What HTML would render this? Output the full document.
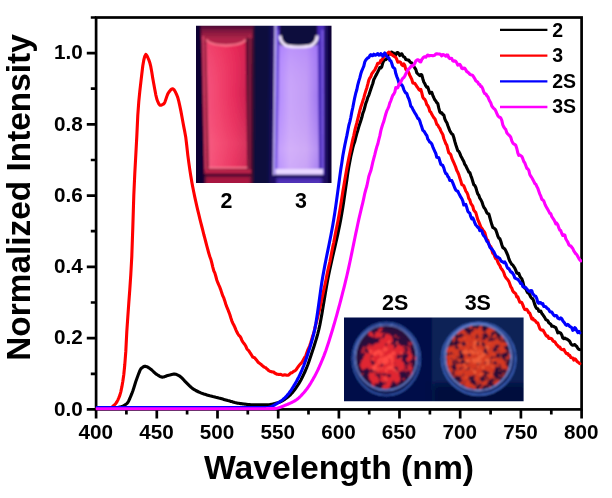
<!DOCTYPE html>
<html lang="en"><head><meta charset="utf-8"><title>Normalized emission spectra</title>
<style>html,body{margin:0;padding:0;background:#fff}body{width:612px;height:498px;overflow:hidden}</style></head>
<body>
<svg width="612" height="498" viewBox="0 0 612 498" style="display:block">
<defs>
<filter id="pw1" x="-5%" y="-5%" width="110%" height="110%" color-interpolation-filters="sRGB"><feTurbulence type="fractalNoise" baseFrequency="0.13" numOctaves="4" seed="4" result="t"/><feColorMatrix in="t" type="matrix" values="0 0 0 0 0  0 0 0 0 0  0 0 0 0 0  1 0 0 0 0" result="na"/><feComposite in="na" in2="SourceGraphic" operator="arithmetic" k1="0" k2="3" k3="1.8" k4="-2.35" result="sum"/><feColorMatrix in="sum" type="matrix" values="0 0 0 0 0  0 0 0 0 0  0 0 0 0 0  0 0 0 3 0" result="al"/><feFlood flood-color="#e02830"/><feComposite in2="al" operator="in"/></filter>
<filter id="pw1b" x="-5%" y="-5%" width="110%" height="110%" color-interpolation-filters="sRGB"><feTurbulence type="fractalNoise" baseFrequency="0.18" numOctaves="4" seed="9" result="t"/><feColorMatrix in="t" type="matrix" values="0 0 0 0 0  0 0 0 0 0  0 0 0 0 0  1 0 0 0 0" result="na"/><feComposite in="na" in2="SourceGraphic" operator="arithmetic" k1="0" k2="3" k3="1.8" k4="-2.85" result="sum"/><feColorMatrix in="sum" type="matrix" values="0 0 0 0 0  0 0 0 0 0  0 0 0 0 0  0 0 0 3 0" result="al"/><feFlood flood-color="#ff4a44"/><feComposite in2="al" operator="in"/></filter>
<filter id="pw2" x="-5%" y="-5%" width="110%" height="110%" color-interpolation-filters="sRGB"><feTurbulence type="fractalNoise" baseFrequency="0.17" numOctaves="4" seed="11" result="t"/><feColorMatrix in="t" type="matrix" values="0 0 0 0 0  0 0 0 0 0  0 0 0 0 0  1 0 0 0 0" result="na"/><feComposite in="na" in2="SourceGraphic" operator="arithmetic" k1="0" k2="3" k3="1.4" k4="-2.2" result="sum"/><feColorMatrix in="sum" type="matrix" values="0 0 0 0 0  0 0 0 0 0  0 0 0 0 0  0 0 0 3 0" result="al"/><feFlood flood-color="#d43824"/><feComposite in2="al" operator="in"/></filter>
<filter id="pw2b" x="-5%" y="-5%" width="110%" height="110%" color-interpolation-filters="sRGB"><feTurbulence type="fractalNoise" baseFrequency="0.22" numOctaves="4" seed="21" result="t"/><feColorMatrix in="t" type="matrix" values="0 0 0 0 0  0 0 0 0 0  0 0 0 0 0  1 0 0 0 0" result="na"/><feComposite in="na" in2="SourceGraphic" operator="arithmetic" k1="0" k2="3" k3="1.6" k4="-2.75" result="sum"/><feColorMatrix in="sum" type="matrix" values="0 0 0 0 0  0 0 0 0 0  0 0 0 0 0  0 0 0 3 0" result="al"/><feFlood flood-color="#ee5c38"/><feComposite in2="al" operator="in"/></filter>
<clipPath id="cd1"><ellipse cx="386" cy="357.8" rx="30" ry="31.6"/></clipPath>
<clipPath id="cd2"><ellipse cx="478.2" cy="357.4" rx="32.2" ry="32.2"/></clipPath>
<filter id="b05"><feGaussianBlur stdDeviation="0.55"/></filter>
<filter id="b08"><feGaussianBlur stdDeviation="0.8"/></filter>
<filter id="b1"><feGaussianBlur stdDeviation="0.8"/></filter>
<filter id="b2"><feGaussianBlur stdDeviation="1.6"/></filter>
<filter id="b3"><feGaussianBlur stdDeviation="3"/></filter>
<linearGradient id="redliq" x1="0" x2="1" y1="0" y2="0"><stop offset="0" stop-color="#f4547e"/><stop offset="0.3" stop-color="#f2446e"/><stop offset="0.7" stop-color="#e62c5c"/><stop offset="1" stop-color="#cc2050"/></linearGradient>
<linearGradient id="dome" x1="0" x2="0" y1="0" y2="1"><stop offset="0" stop-color="#3c0834"/><stop offset="0.5" stop-color="#8a1840"/><stop offset="1" stop-color="#b02848"/></linearGradient>
<linearGradient id="redliqv" x1="0" x2="0" y1="0" y2="1"><stop offset="0" stop-color="#e8204c" stop-opacity="0.35"/><stop offset="0.4" stop-color="#f04870" stop-opacity="0"/><stop offset="0.8" stop-color="#ff7890" stop-opacity="0.22"/><stop offset="1" stop-color="#ff7890" stop-opacity="0.1"/></linearGradient>
<linearGradient id="purliqv" x1="0" x2="0" y1="0" y2="1"><stop offset="0" stop-color="#9a68ff" stop-opacity="0.45"/><stop offset="0.45" stop-color="#c8a0f8" stop-opacity="0"/><stop offset="0.85" stop-color="#e8c8f8" stop-opacity="0.3"/><stop offset="1" stop-color="#e8c8f8" stop-opacity="0.15"/></linearGradient>
<linearGradient id="purliq" x1="0" x2="1" y1="0" y2="0"><stop offset="0" stop-color="#b088ff"/><stop offset="0.3" stop-color="#caa6fa"/><stop offset="0.7" stop-color="#c29cf6"/><stop offset="1" stop-color="#9c74f0"/></linearGradient>
<radialGradient id="m1" cx="0.5" cy="0.52" r="0.5"><stop offset="0" stop-color="#000" stop-opacity="1"/><stop offset="0.5" stop-color="#000" stop-opacity="0.8"/><stop offset="0.8" stop-color="#000" stop-opacity="0.5"/><stop offset="1" stop-color="#000" stop-opacity="0.15"/></radialGradient>
<radialGradient id="m1b" cx="0.48" cy="0.5" r="0.5"><stop offset="0" stop-color="#000" stop-opacity="1"/><stop offset="0.4" stop-color="#000" stop-opacity="0.7"/><stop offset="0.8" stop-color="#000" stop-opacity="0.2"/><stop offset="1" stop-color="#000" stop-opacity="0"/></radialGradient>
<radialGradient id="m2" cx="0.46" cy="0.5" r="0.56"><stop offset="0" stop-color="#000" stop-opacity="1"/><stop offset="0.6" stop-color="#000" stop-opacity="0.75"/><stop offset="1" stop-color="#000" stop-opacity="0.45"/></radialGradient>
<radialGradient id="m2b" cx="0.48" cy="0.5" r="0.5"><stop offset="0" stop-color="#000" stop-opacity="1"/><stop offset="0.5" stop-color="#000" stop-opacity="0.6"/><stop offset="1" stop-color="#000" stop-opacity="0.1"/></radialGradient>
<clipPath id="plot"><rect x="95.6" y="17.5" width="486.5" height="394.9"/></clipPath>
<clipPath id="ph1"><rect x="196" y="25.7" width="135.5" height="157.3"/></clipPath>
<clipPath id="ph2"><rect x="344" y="317.4" width="179.6" height="83.8"/></clipPath>
</defs>
<rect width="612" height="498" fill="#fff"/>
<g clip-path="url(#ph1)"><g filter="url(#b08)">
<rect x="190" y="20" width="148" height="170" fill="#0a0632"/>
<rect x="254" y="20" width="20" height="170" fill="#0c0a3c"/>
<path d="M201.5 22H254L253 186H205Z" fill="#4a0a30" filter="url(#b1)"/>
<path d="M201.3 24H252.4L251.2 175H204.6Z" fill="#8e1a3c"/>
<path d="M201.3 24H252.4L252.3 40H201.6Z" fill="url(#dome)"/>
<path d="M202.2 36L204 36L206.6 174L204.8 174Z" fill="#d84068"/>
<path d="M245.4 38H252.3L251.3 174H247.2Z" fill="#5c1030"/>
<path d="M249.4 34L250.6 34L250 172L249 172Z" fill="#b02c54" opacity="0.8"/>
<path d="M206.4 41H245.6L247.2 168.5H209Z" fill="url(#redliq)"/>
<path d="M206.4 41H245.6L247.2 168.5H209Z" fill="url(#redliqv)"/>
<path d="M206 37.5H246V42Q226 50 206 42Z" fill="#b02448"/>
<path d="M206.6 39.5Q208 44.5 226 45.5Q244 44.5 245.4 39.5" fill="none" stroke="#ff7890" stroke-width="1.8" filter="url(#b05)"/>
<path d="M208.6 167.6H247.4" stroke="#ff8098" stroke-width="1.4" fill="none"/>
<path d="M205 169.5H251L251 174H205Z" fill="#b82448"/>
<path d="M204.5 174.6H251.4" stroke="#2a0626" stroke-width="1.6" fill="none"/>
<path d="M205.5 176.5H250.5V186H205.5Z" fill="#a81840" filter="url(#b1)"/>
<path d="M270 22H328V186H269Z" fill="#1c0e60" filter="url(#b2)"/>
<path d="M274.6 24H324.4V175H273Z" fill="#4a2cb8"/>
<path d="M279.6 24H317.4V46H279.6Z" fill="#0c083e"/>
<path d="M275.5 24L273.9 175" stroke="#d8c8ff" stroke-width="1.5" fill="none"/>
<path d="M277.6 30L276 172" stroke="#7a58e8" stroke-width="2" fill="none"/>
<path d="M322.4 30L322.8 174" stroke="#8a68f0" stroke-width="1.3" fill="none"/>
<path d="M279.4 36V44Q284 48 298.5 48.5Q313 48 317.6 44V36L319 169H277.2Z" fill="url(#purliq)"/>
<path d="M279.4 36V44Q284 48 298.5 48.5Q313 48 317.6 44V36L319 169H277.2Z" fill="url(#purliqv)"/>
<path d="M280 35.5Q280.5 43.5 287 46Q298.5 48.2 310 46Q316.8 43.5 317.2 35.5" fill="none" stroke="#f4e8ff" stroke-width="3" filter="url(#b05)"/>
<path d="M275.5 169H323V174.6H275.5Z" fill="#ead8ff"/>
<path d="M274 176.3H324" stroke="#160a48" stroke-width="1.6" fill="none"/>
<path d="M276.5 178H322V186H276.5Z" fill="#5030b8" filter="url(#b1)"/>
</g></g>
<g clip-path="url(#ph2)"><g filter="url(#b08)">
<rect x="340" y="312" width="92" height="95" fill="#051048"/>
<rect x="432" y="312" width="96" height="95" fill="#0a2056"/>
<rect x="432" y="384" width="96" height="24" fill="#060f3c" filter="url(#b3)"/>
<ellipse cx="386.3" cy="359" rx="33.6" ry="36.2" fill="#08134e" stroke="#4470d4" stroke-width="1.1"/>
<ellipse cx="386" cy="357.6" rx="31" ry="32.6" fill="#2a0c3a" stroke="#7a9cf0" stroke-width="1.2"/>
<g clip-path="url(#cd1)"><ellipse cx="386" cy="358" rx="30.5" ry="32" fill="url(#m1)" filter="url(#pw1)"/>
<ellipse cx="386" cy="359" rx="30.5" ry="32" fill="url(#m1b)" filter="url(#pw1b)"/></g>
<ellipse cx="478.7" cy="358.7" rx="36.8" ry="36.2" fill="#0c1c5c" stroke="#4c78dc" stroke-width="1.2"/>
<ellipse cx="478.2" cy="357.4" rx="33.2" ry="33.2" fill="#2c1034" stroke="#84a4f4" stroke-width="1.3"/>
<g clip-path="url(#cd2)"><ellipse cx="478" cy="357.5" rx="32.5" ry="32.5" fill="url(#m2)" filter="url(#pw2)"/>
<ellipse cx="478" cy="357.5" rx="32.5" ry="32.5" fill="url(#m2b)" filter="url(#pw2b)"/></g>
</g></g>
<g stroke="#000" stroke-width="2.7" fill="none">
<rect x="96.1" y="17.5" width="485.5" height="391.9"/>
<path d="M96.1 409.4V418.4M126.4 409.4V414.4M156.8 409.4V418.4M187.1 409.4V414.4M217.5 409.4V418.4M247.8 409.4V414.4M278.2 409.4V418.4M308.5 409.4V414.4M338.9 409.4V418.4M369.2 409.4V414.4M399.5 409.4V418.4M429.9 409.4V414.4M460.2 409.4V418.4M490.6 409.4V414.4M520.9 409.4V418.4M551.3 409.4V414.4M581.6 409.4V418.4M86.8 409.4H96.1M90.8 373.8H96.1M86.8 338.1H96.1M90.8 302.5H96.1M86.8 266.9H96.1M90.8 231.2H96.1M86.8 195.6H96.1M90.8 160.0H96.1M86.8 124.4H96.1M90.8 88.7H96.1M86.8 53.1H96.1M90.8 17.5H96.1"/>
</g>
<g clip-path="url(#plot)" fill="none" stroke-linejoin="round" stroke-linecap="round" stroke-width="3.1">
<polyline stroke="#000" points="96.8,408.3 97.8,408.3 98.8,408.3 99.8,408.3 100.8,408.3 101.8,408.3 102.8,408.3 103.8,408.3 104.8,408.3 105.8,408.3 106.8,408.3 107.8,408.2 108.8,408.2 109.8,408.2 110.8,408.2 111.8,408.2 112.8,408.2 113.8,408.1 114.8,408.0 115.8,407.9 116.8,407.7 117.8,407.5 118.8,407.3 119.8,407.1 120.8,406.9 121.8,406.5 122.8,406.1 123.8,405.6 124.8,405.0 125.8,404.4 126.8,403.6 127.8,402.5 128.8,400.7 129.8,398.5 130.8,396.1 131.8,393.7 132.8,391.0 133.8,387.9 134.8,384.7 135.8,381.5 136.8,378.7 137.8,376.0 138.8,373.3 139.8,370.8 140.8,368.9 141.8,367.9 142.8,367.2 143.8,366.6 144.8,366.3 145.8,366.4 146.8,366.7 147.8,367.2 148.8,367.8 149.8,368.5 150.8,369.2 151.8,370.0 152.8,371.0 153.8,372.0 154.8,372.9 155.8,373.8 156.8,374.4 157.8,375.1 158.8,375.7 159.8,376.3 160.8,376.8 161.8,377.1 162.8,377.1 163.8,376.9 164.8,376.6 165.8,376.2 166.8,375.8 167.8,375.5 168.8,375.2 169.8,375.0 170.8,374.7 171.8,374.5 172.8,374.3 173.8,374.1 174.8,374.1 175.8,374.2 176.8,374.6 177.8,375.1 178.8,375.6 179.8,376.2 180.8,377.0 181.8,377.9 182.8,378.9 183.8,380.0 184.8,381.1 185.8,382.1 186.8,383.1 187.8,384.1 188.8,385.1 189.8,386.1 190.8,387.0 191.8,387.9 192.8,388.7 193.8,389.3 194.8,389.9 195.8,390.5 196.8,391.0 197.8,391.5 198.8,392.0 199.8,392.4 200.8,392.9 201.8,393.3 202.8,393.6 203.8,394.0 204.8,394.3 205.8,394.6 206.8,394.9 207.8,395.2 208.8,395.5 209.8,395.8 210.8,396.0 211.8,396.2 212.8,396.5 213.8,396.7 214.8,396.9 215.8,397.2 216.8,397.4 217.8,397.7 218.8,398.0 219.8,398.2 220.8,398.5 221.8,398.8 222.8,399.1 223.8,399.4 224.8,399.7 225.8,400.0 226.8,400.3 227.8,400.6 228.8,400.8 229.8,401.1 230.8,401.4 231.8,401.6 232.8,401.9 233.8,402.2 234.8,402.5 235.8,402.7 236.8,402.9 237.8,403.2 238.8,403.3 239.8,403.5 240.8,403.6 241.8,403.8 242.8,403.9 243.8,404.0 244.8,404.1 245.8,404.3 246.8,404.4 247.8,404.5 248.8,404.5 249.8,404.6 250.8,404.7 251.8,404.7 252.8,404.8 253.8,404.8 254.8,404.8 255.8,404.8 256.8,404.8 257.8,404.8 258.8,404.8 259.8,404.8 260.8,404.8 261.8,404.8 262.8,404.8 263.8,404.8 264.8,404.8 265.8,404.8 266.8,404.8 267.8,404.8 268.8,404.7 269.8,404.6 270.8,404.4 271.8,404.3 272.8,404.1 273.8,403.8 274.8,403.6 275.8,403.3 276.8,403.0 277.8,402.7 278.8,402.4 279.8,402.0 280.8,401.6 281.8,401.1 282.8,400.6 283.8,399.9 284.8,399.3 285.8,398.6 286.8,397.8 287.8,397.0 288.8,396.2 289.8,395.3 290.8,394.3 291.8,393.2 292.8,392.1 293.8,390.8 294.8,389.5 295.8,388.1 296.8,386.6 297.8,385.1 298.8,383.6 299.8,381.9 300.8,380.2 301.8,378.3 302.8,376.3 303.8,374.2 304.8,372.0 305.8,369.7 306.8,367.3 307.8,364.7 308.8,361.9 309.8,359.0 310.8,356.0 311.8,353.0 312.8,350.0 313.8,346.9 314.8,343.8 315.8,340.6 316.8,337.2 317.8,333.6 318.8,329.6 319.8,325.1 320.8,320.0 321.8,314.4 322.8,308.6 323.8,302.5 324.8,296.5 325.8,290.5 326.8,284.7 327.8,279.2 328.8,274.2 329.8,269.4 330.8,264.8 331.8,260.4 332.8,256.0 333.8,251.7 334.8,247.4 335.8,243.0 336.8,238.6 337.8,234.1 338.8,229.3 339.8,224.4 340.8,219.2 341.8,213.6 342.8,207.4 343.8,200.9 344.8,194.0 345.8,187.0 346.8,180.2 347.8,173.1 348.8,167.0 349.8,161.6 350.8,156.5 351.8,152.1 352.8,147.9 353.8,144.2 354.8,141.4 355.8,137.3 356.8,133.5 357.8,130.4 358.8,126.8 359.8,123.8 360.8,120.7 361.8,117.6 362.8,113.4 363.8,110.7 364.8,107.2 365.8,103.4 366.8,100.8 367.8,97.4 368.8,95.3 369.8,92.3 370.8,89.2 371.8,86.3 372.8,83.5 373.8,79.5 374.8,77.7 375.8,75.6 376.8,73.9 377.8,71.9 378.8,69.9 379.8,67.5 380.8,68.0 381.8,66.7 382.8,62.8 383.8,60.6 384.8,59.8 385.8,59.7 386.8,58.6 387.8,55.3 388.8,54.1 389.8,53.2 390.8,52.3 391.8,52.1 392.8,53.1 393.8,53.1 394.8,55.0 395.8,54.8 396.8,52.8 397.8,52.5 398.8,53.8 399.8,55.5 400.8,54.2 401.8,53.8 402.8,55.7 403.8,56.9 404.8,57.4 405.8,59.5 406.8,59.8 407.8,60.1 408.8,60.1 409.8,61.7 410.8,62.6 411.8,62.9 412.8,65.5 413.8,66.2 414.8,68.0 415.8,69.4 416.8,72.9 417.8,73.7 418.8,74.8 419.8,75.6 420.8,74.5 421.8,75.0 422.8,78.7 423.8,82.0 424.8,83.6 425.8,85.9 426.8,87.2 427.8,87.1 428.8,90.3 429.8,93.3 430.8,92.5 431.8,92.4 432.8,95.3 433.8,97.7 434.8,99.8 435.8,101.0 436.8,102.7 437.8,103.7 438.8,108.2 439.8,111.9 440.8,113.0 441.8,112.7 442.8,114.5 443.8,114.9 444.8,118.9 445.8,121.2 446.8,122.6 447.8,125.5 448.8,128.1 449.8,130.7 450.8,132.4 451.8,134.0 452.8,134.6 453.8,137.5 454.8,141.4 455.8,144.8 456.8,147.8 457.8,150.7 458.8,151.3 459.8,153.4 460.8,155.9 461.8,157.7 462.8,159.8 463.8,161.5 464.8,164.4 465.8,165.7 466.8,168.0 467.8,169.9 468.8,172.1 469.8,172.6 470.8,175.6 471.8,178.1 472.8,181.5 473.8,184.7 474.8,185.5 475.8,187.5 476.8,190.9 477.8,194.0 478.8,195.2 479.8,198.2 480.8,199.6 481.8,201.6 482.8,204.6 483.8,207.2 484.8,208.4 485.8,210.3 486.8,212.6 487.8,213.7 488.8,213.9 489.8,217.5 490.8,221.1 491.8,224.6 492.8,227.4 493.8,228.1 494.8,228.8 495.8,229.9 496.8,232.8 497.8,236.0 498.8,238.1 499.8,238.6 500.8,241.3 501.8,244.7 502.8,247.6 503.8,248.2 504.8,249.0 505.8,250.8 506.8,253.0 507.8,255.3 508.8,258.6 509.8,261.1 510.8,262.8 511.8,264.4 512.8,265.0 513.8,266.7 514.8,268.1 515.8,270.4 516.8,273.1 517.8,273.4 518.8,273.4 519.8,276.1 520.8,277.7 521.8,278.8 522.8,281.7 523.8,285.8 524.8,288.2 525.8,288.7 526.8,291.3 527.8,293.0 528.8,292.9 529.8,295.0 530.8,297.1 531.8,298.4 532.8,298.7 533.8,301.4 534.8,304.7 535.8,307.1 536.8,308.5 537.8,308.7 538.8,311.2 539.8,311.4 540.8,311.1 541.8,313.5 542.8,314.6 543.8,316.2 544.8,317.6 545.8,319.6 546.8,320.1 547.8,320.8 548.8,322.8 549.8,323.5 550.8,324.2 551.8,326.2 552.8,326.1 553.8,326.5 554.8,327.2 555.8,327.7 556.8,330.1 557.8,332.9 558.8,332.2 559.8,332.8 560.8,333.2 561.8,335.0 562.8,338.0 563.8,338.6 564.8,338.0 565.8,338.8 566.8,339.1 567.8,339.7 568.8,340.4 569.8,341.5 570.8,343.6 571.8,344.9 572.8,345.3 573.8,344.9 574.8,344.5 575.8,345.7 576.8,346.5 577.8,348.4 578.8,349.2 579.8,349.6"/>
<polyline stroke="#ff0000" points="96.8,408.3 97.8,408.3 98.8,408.3 99.8,408.3 100.8,408.3 101.8,408.3 102.8,408.2 103.8,408.2 104.8,408.2 105.8,408.2 106.8,408.1 107.8,408.1 108.8,408.0 109.8,407.9 110.8,407.6 111.8,407.1 112.8,406.4 113.8,405.5 114.8,404.6 115.8,403.4 116.8,402.0 117.8,400.1 118.8,397.9 119.8,395.4 120.8,391.8 121.8,387.2 122.8,381.5 123.8,374.5 124.8,364.5 125.8,351.4 126.8,331.7 127.8,317.0 128.8,302.8 129.8,289.3 130.8,274.5 131.8,256.3 132.8,227.6 133.8,195.2 134.8,173.3 135.8,155.0 136.8,136.3 137.8,115.1 138.8,101.4 139.8,91.3 140.8,82.6 141.8,74.0 142.8,65.8 143.8,60.0 144.8,56.2 145.8,54.4 146.8,55.5 147.8,57.5 148.8,59.8 149.8,62.7 150.8,66.7 151.8,72.2 152.8,78.4 153.8,84.1 154.8,89.5 155.8,94.8 156.8,99.0 157.8,101.7 158.8,103.8 159.8,105.1 160.8,105.2 161.8,104.9 162.8,104.4 163.8,103.8 164.8,102.3 165.8,99.5 166.8,96.5 167.8,93.9 168.8,92.3 169.8,91.0 170.8,89.8 171.8,89.0 172.8,88.8 173.8,89.5 174.8,90.9 175.8,92.8 176.8,95.0 177.8,97.6 178.8,101.4 179.8,105.9 180.8,110.6 181.8,116.0 182.8,121.6 183.8,126.9 184.8,131.9 185.8,137.6 186.8,146.0 187.8,155.1 188.8,162.6 189.8,169.6 190.8,176.0 191.8,181.9 192.8,187.3 193.8,192.3 194.8,197.1 195.8,201.6 196.8,206.1 197.8,210.4 198.8,214.4 199.8,218.6 200.8,222.6 201.8,226.5 202.8,230.4 203.8,234.5 204.8,238.1 205.8,242.0 206.8,245.8 207.8,249.5 208.8,253.3 209.8,256.4 210.8,259.2 211.8,262.9 212.8,267.1 213.8,270.8 214.8,272.9 215.8,276.3 216.8,280.0 217.8,282.7 218.8,285.0 219.8,287.2 220.8,289.9 221.8,293.1 222.8,295.9 223.8,297.9 224.8,300.9 225.8,304.3 226.8,306.9 227.8,309.3 228.8,311.9 229.8,314.5 230.8,317.8 231.8,320.8 232.8,323.2 233.8,325.0 234.8,327.1 235.8,329.6 236.8,331.8 237.8,333.7 238.8,335.3 239.8,336.2 240.8,337.7 241.8,340.2 242.8,341.9 243.8,343.3 244.8,344.5 245.8,346.2 246.8,348.6 247.8,349.9 248.8,350.7 249.8,352.4 250.8,353.9 251.8,355.5 252.8,357.1 253.8,357.4 254.8,357.9 255.8,359.3 256.8,360.4 257.8,361.8 258.8,362.8 259.8,363.5 260.8,364.2 261.8,365.2 262.8,365.9 263.8,366.9 264.8,367.4 265.8,367.8 266.8,368.9 267.8,369.6 268.8,370.7 269.8,371.2 270.8,371.5 271.8,371.9 272.8,372.0 273.8,372.0 274.8,373.3 275.8,373.6 276.8,374.2 277.8,374.2 278.8,374.4 279.8,374.5 280.8,374.4 281.8,374.9 282.8,375.3 283.8,375.0 284.8,374.7 285.8,374.9 286.8,375.2 287.8,375.3 288.8,374.8 289.8,373.8 290.8,372.9 291.8,372.9 292.8,372.1 293.8,371.3 294.8,370.9 295.8,370.1 296.8,368.8 297.8,367.2 298.8,365.9 299.8,364.6 300.8,363.7 301.8,362.4 302.8,361.0 303.8,359.0 304.8,357.2 305.8,355.8 306.8,352.7 307.8,349.9 308.8,347.8 309.8,345.6 310.8,342.5 311.8,339.1 312.8,335.8 313.8,333.0 314.8,328.7 315.8,324.4 316.8,320.6 317.8,316.4 318.8,312.4 319.8,308.5 320.8,303.6 321.8,298.9 322.8,294.3 323.8,289.8 324.8,285.5 325.8,280.8 326.8,275.6 327.8,270.7 328.8,266.4 329.8,262.1 330.8,257.1 331.8,251.9 332.8,246.7 333.8,242.3 334.8,236.7 335.8,231.5 336.8,226.8 337.8,221.8 338.8,216.4 339.8,210.4 340.8,204.5 341.8,198.2 342.8,191.7 343.8,185.9 344.8,179.9 345.8,174.2 346.8,168.5 347.8,163.3 348.8,158.2 349.8,153.5 350.8,148.9 351.8,144.0 352.8,139.4 353.8,135.3 354.8,130.5 355.8,126.6 356.8,122.9 357.8,118.8 358.8,115.0 359.8,110.7 360.8,107.1 361.8,104.2 362.8,101.1 363.8,97.9 364.8,94.1 365.8,90.9 366.8,87.9 367.8,84.2 368.8,80.1 369.8,78.0 370.8,76.8 371.8,73.8 372.8,72.6 373.8,71.0 374.8,70.0 375.8,67.6 376.8,65.7 377.8,63.2 378.8,63.3 379.8,62.9 380.8,60.3 381.8,60.3 382.8,58.4 383.8,56.3 384.8,54.0 385.8,55.3 386.8,54.0 387.8,53.0 388.8,52.0 389.8,52.6 390.8,54.4 391.8,54.4 392.8,55.6 393.8,56.0 394.8,56.8 395.8,57.3 396.8,59.5 397.8,62.2 398.8,62.0 399.8,61.9 400.8,62.5 401.8,64.8 402.8,65.7 403.8,63.9 404.8,65.4 405.8,69.5 406.8,70.1 407.8,70.7 408.8,72.8 409.8,75.4 410.8,77.3 411.8,79.4 412.8,82.9 413.8,83.2 414.8,83.3 415.8,84.8 416.8,86.6 417.8,87.8 418.8,89.4 419.8,90.3 420.8,89.3 421.8,92.9 422.8,97.1 423.8,98.7 424.8,99.3 425.8,101.4 426.8,104.7 427.8,105.7 428.8,107.7 429.8,111.3 430.8,112.2 431.8,114.3 432.8,116.0 433.8,117.6 434.8,118.7 435.8,121.2 436.8,124.4 437.8,125.1 438.8,127.1 439.8,128.4 440.8,130.9 441.8,132.9 442.8,134.5 443.8,138.5 444.8,141.0 445.8,143.6 446.8,145.1 447.8,149.1 448.8,152.9 449.8,153.5 450.8,154.8 451.8,158.1 452.8,160.5 453.8,162.6 454.8,165.0 455.8,167.4 456.8,170.5 457.8,172.3 458.8,174.6 459.8,178.1 460.8,180.9 461.8,184.7 462.8,184.9 463.8,185.8 464.8,188.3 465.8,191.1 466.8,192.4 467.8,194.6 468.8,198.6 469.8,199.8 470.8,203.4 471.8,204.8 472.8,206.4 473.8,210.3 474.8,211.4 475.8,212.6 476.8,216.1 477.8,219.7 478.8,221.9 479.8,224.4 480.8,227.1 481.8,228.2 482.8,229.9 483.8,231.3 484.8,232.6 485.8,236.3 486.8,239.7 487.8,240.2 488.8,244.0 489.8,245.8 490.8,246.7 491.8,250.0 492.8,253.3 493.8,254.0 494.8,256.7 495.8,258.7 496.8,259.3 497.8,262.1 498.8,264.1 499.8,265.4 500.8,267.9 501.8,269.3 502.8,270.6 503.8,272.6 504.8,275.8 505.8,277.5 506.8,278.7 507.8,279.8 508.8,281.3 509.8,284.0 510.8,286.8 511.8,288.2 512.8,291.1 513.8,292.3 514.8,292.8 515.8,294.0 516.8,297.0 517.8,296.9 518.8,299.6 519.8,302.2 520.8,302.0 521.8,302.6 522.8,304.9 523.8,307.6 524.8,309.5 525.8,309.7 526.8,309.3 527.8,310.8 528.8,312.7 529.8,313.2 530.8,315.9 531.8,318.9 532.8,318.4 533.8,320.1 534.8,320.3 535.8,321.5 536.8,322.8 537.8,323.1 538.8,325.7 539.8,328.6 540.8,329.7 541.8,330.1 542.8,330.0 543.8,331.4 544.8,333.2 545.8,335.1 546.8,336.2 547.8,336.1 548.8,338.4 549.8,338.4 550.8,338.4 551.8,338.9 552.8,340.6 553.8,341.5 554.8,341.7 555.8,343.4 556.8,344.8 557.8,345.7 558.8,347.0 559.8,347.1 560.8,348.9 561.8,349.5 562.8,349.8 563.8,349.3 564.8,351.2 565.8,352.8 566.8,353.8 567.8,353.6 568.8,355.4 569.8,355.4 570.8,357.5 571.8,357.8 572.8,358.0 573.8,360.1 574.8,358.8 575.8,359.5 576.8,361.1 577.8,362.1 578.8,362.8 579.8,363.7"/>
<polyline stroke="#0000ff" points="96.8,407.6 97.8,407.6 98.8,407.6 99.8,407.6 100.8,407.6 101.8,407.6 102.8,407.6 103.8,407.6 104.8,407.6 105.8,407.6 106.8,407.6 107.8,407.6 108.8,407.6 109.8,407.6 110.8,407.6 111.8,407.6 112.8,407.6 113.8,407.6 114.8,407.6 115.8,407.6 116.8,407.6 117.8,407.6 118.8,407.6 119.8,407.6 120.8,407.6 121.8,407.6 122.8,407.6 123.8,407.6 124.8,407.6 125.8,407.6 126.8,407.6 127.8,407.6 128.8,407.6 129.8,407.6 130.8,407.6 131.8,407.6 132.8,407.6 133.8,407.6 134.8,407.6 135.8,407.6 136.8,407.6 137.8,407.6 138.8,407.6 139.8,407.6 140.8,407.6 141.8,407.6 142.8,407.6 143.8,407.6 144.8,407.6 145.8,407.6 146.8,407.6 147.8,407.6 148.8,407.6 149.8,407.6 150.8,407.6 151.8,407.6 152.8,407.6 153.8,407.6 154.8,407.6 155.8,407.6 156.8,407.6 157.8,407.6 158.8,407.6 159.8,407.6 160.8,407.6 161.8,407.6 162.8,407.6 163.8,407.6 164.8,407.6 165.8,407.6 166.8,407.6 167.8,407.6 168.8,407.6 169.8,407.6 170.8,407.6 171.8,407.6 172.8,407.6 173.8,407.6 174.8,407.6 175.8,407.6 176.8,407.6 177.8,407.6 178.8,407.6 179.8,407.6 180.8,407.6 181.8,407.6 182.8,407.6 183.8,407.6 184.8,407.6 185.8,407.6 186.8,407.6 187.8,407.6 188.8,407.6 189.8,407.6 190.8,407.6 191.8,407.6 192.8,407.6 193.8,407.6 194.8,407.6 195.8,407.6 196.8,407.6 197.8,407.6 198.8,407.6 199.8,407.6 200.8,407.6 201.8,407.6 202.8,407.6 203.8,407.6 204.8,407.6 205.8,407.6 206.8,407.6 207.8,407.6 208.8,407.6 209.8,407.6 210.8,407.6 211.8,407.6 212.8,407.6 213.8,407.6 214.8,407.6 215.8,407.6 216.8,407.6 217.8,407.6 218.8,407.6 219.8,407.6 220.8,407.6 221.8,407.6 222.8,407.6 223.8,407.6 224.8,407.6 225.8,407.6 226.8,407.6 227.8,407.6 228.8,407.6 229.8,407.6 230.8,407.6 231.8,407.6 232.8,407.6 233.8,407.6 234.8,407.6 235.8,407.6 236.8,407.6 237.8,407.6 238.8,407.6 239.8,407.6 240.8,407.6 241.8,407.6 242.8,407.6 243.8,407.6 244.8,407.6 245.8,407.6 246.8,407.6 247.8,407.6 248.8,407.6 249.8,407.6 250.8,407.6 251.8,407.6 252.8,407.6 253.8,407.6 254.8,407.6 255.8,407.6 256.8,407.6 257.8,407.6 258.8,407.6 259.8,407.6 260.8,407.6 261.8,407.6 262.8,407.6 263.8,407.6 264.8,407.6 265.8,407.6 266.8,407.6 267.8,407.5 268.8,407.4 269.8,407.1 270.8,406.8 271.8,406.4 272.8,405.9 273.8,405.4 274.8,404.8 275.8,404.2 276.8,403.6 277.8,403.0 278.8,402.4 279.8,401.8 280.8,401.1 281.8,400.4 282.8,399.6 283.8,398.7 284.8,397.8 285.8,396.8 286.8,395.8 287.8,394.6 288.8,393.4 289.8,392.0 290.8,390.6 291.8,389.1 292.8,387.5 293.8,385.9 294.8,384.2 295.8,382.5 296.8,380.7 297.8,378.8 298.8,376.9 299.8,374.8 300.8,372.6 301.8,370.4 302.8,368.0 303.8,365.5 304.8,362.8 305.8,360.0 306.8,357.0 307.8,354.0 308.8,350.8 309.8,347.7 310.8,344.5 311.8,341.1 312.8,337.5 313.8,333.5 314.8,329.1 315.8,323.8 316.8,317.6 317.8,310.8 318.8,303.7 319.8,296.4 320.8,289.3 321.8,282.6 322.8,276.5 323.8,270.9 324.8,265.6 325.8,260.5 326.8,255.5 327.8,250.6 328.8,245.8 329.8,240.8 330.8,235.8 331.8,230.5 332.8,225.0 333.8,219.1 334.8,212.8 335.8,205.9 336.8,198.6 337.8,191.4 338.8,184.0 339.8,176.4 340.8,169.3 341.8,162.9 342.8,156.1 343.8,150.4 344.8,145.3 345.8,140.5 346.8,135.9 347.8,130.7 348.8,125.5 349.8,121.9 350.8,117.5 351.8,112.0 352.8,107.5 353.8,102.3 354.8,97.3 355.8,93.0 356.8,89.7 357.8,84.8 358.8,81.1 359.8,77.9 360.8,73.8 361.8,70.8 362.8,68.5 363.8,66.2 364.8,61.9 365.8,60.0 366.8,58.9 367.8,57.7 368.8,57.6 369.8,55.7 370.8,54.7 371.8,55.7 372.8,55.7 373.8,54.2 374.8,55.1 375.8,55.2 376.8,54.2 377.8,53.7 378.8,55.1 379.8,55.0 380.8,53.6 381.8,54.4 382.8,56.2 383.8,54.3 384.8,52.9 385.8,54.7 386.8,56.4 387.8,57.3 388.8,57.9 389.8,60.3 390.8,60.8 391.8,63.5 392.8,66.9 393.8,67.9 394.8,68.7 395.8,73.6 396.8,76.6 397.8,78.8 398.8,82.6 399.8,84.6 400.8,84.6 401.8,84.8 402.8,86.5 403.8,89.6 404.8,91.6 405.8,93.0 406.8,93.4 407.8,96.8 408.8,98.7 409.8,102.0 410.8,106.1 411.8,107.1 412.8,109.2 413.8,111.0 414.8,112.9 415.8,114.3 416.8,116.2 417.8,118.5 418.8,118.8 419.8,121.0 420.8,124.3 421.8,127.1 422.8,130.3 423.8,131.0 424.8,132.4 425.8,134.2 426.8,135.4 427.8,139.1 428.8,140.4 429.8,142.2 430.8,142.7 431.8,143.9 432.8,146.8 433.8,149.2 434.8,151.4 435.8,153.5 436.8,157.3 437.8,157.5 438.8,157.8 439.8,160.9 440.8,164.2 441.8,165.0 442.8,165.5 443.8,167.9 444.8,171.4 445.8,173.6 446.8,174.0 447.8,176.4 448.8,177.6 449.8,180.5 450.8,180.4 451.8,180.6 452.8,182.9 453.8,185.4 454.8,188.0 455.8,190.0 456.8,190.9 457.8,191.2 458.8,193.4 459.8,195.3 460.8,197.2 461.8,198.6 462.8,201.0 463.8,205.0 464.8,204.6 465.8,204.4 466.8,207.6 467.8,211.2 468.8,212.4 469.8,213.2 470.8,216.7 471.8,219.0 472.8,217.9 473.8,220.0 474.8,222.9 475.8,225.0 476.8,226.0 477.8,227.3 478.8,227.9 479.8,230.6 480.8,230.3 481.8,230.7 482.8,234.0 483.8,235.9 484.8,236.7 485.8,238.8 486.8,241.2 487.8,242.3 488.8,244.1 489.8,247.0 490.8,248.4 491.8,248.7 492.8,250.4 493.8,251.7 494.8,253.8 495.8,255.9 496.8,257.0 497.8,257.0 498.8,257.9 499.8,258.6 500.8,260.7 501.8,261.5 502.8,261.9 503.8,262.7 504.8,262.0 505.8,263.5 506.8,266.3 507.8,268.4 508.8,268.5 509.8,270.3 510.8,272.1 511.8,272.1 512.8,273.5 513.8,275.1 514.8,278.0 515.8,278.4 516.8,279.1 517.8,279.3 518.8,280.6 519.8,281.9 520.8,283.6 521.8,283.8 522.8,286.5 523.8,287.0 524.8,287.4 525.8,287.5 526.8,289.0 527.8,290.1 528.8,291.0 529.8,291.7 530.8,290.5 531.8,290.7 532.8,294.0 533.8,294.7 534.8,296.3 535.8,296.4 536.8,298.6 537.8,302.5 538.8,303.3 539.8,302.4 540.8,302.8 541.8,304.0 542.8,303.6 543.8,306.5 544.8,306.5 545.8,306.7 546.8,308.2 547.8,308.6 548.8,309.6 549.8,311.7 550.8,311.9 551.8,312.0 552.8,313.8 553.8,315.2 554.8,315.9 555.8,315.5 556.8,316.0 557.8,318.0 558.8,318.5 559.8,319.0 560.8,317.9 561.8,318.7 562.8,320.8 563.8,322.1 564.8,323.3 565.8,324.8 566.8,325.3 567.8,324.4 568.8,325.2 569.8,326.6 570.8,326.9 571.8,327.9 572.8,330.3 573.8,329.9 574.8,327.7 575.8,328.7 576.8,330.8 577.8,332.6 578.8,331.3 579.8,332.9"/>
<polyline stroke="#ff00ff" points="96.8,408.8 97.8,408.8 98.8,408.8 99.8,408.8 100.8,408.8 101.8,408.8 102.8,408.8 103.8,408.8 104.8,408.8 105.8,408.8 106.8,408.8 107.8,408.8 108.8,408.8 109.8,408.8 110.8,408.8 111.8,408.8 112.8,408.8 113.8,408.8 114.8,408.8 115.8,408.8 116.8,408.8 117.8,408.8 118.8,408.8 119.8,408.8 120.8,408.8 121.8,408.8 122.8,408.8 123.8,408.8 124.8,408.8 125.8,408.8 126.8,408.8 127.8,408.8 128.8,408.8 129.8,408.8 130.8,408.8 131.8,408.8 132.8,408.8 133.8,408.8 134.8,408.8 135.8,408.8 136.8,408.8 137.8,408.8 138.8,408.8 139.8,408.8 140.8,408.8 141.8,408.8 142.8,408.8 143.8,408.8 144.8,408.8 145.8,408.8 146.8,408.8 147.8,408.8 148.8,408.8 149.8,408.8 150.8,408.8 151.8,408.8 152.8,408.8 153.8,408.8 154.8,408.8 155.8,408.8 156.8,408.8 157.8,408.8 158.8,408.8 159.8,408.8 160.8,408.8 161.8,408.8 162.8,408.8 163.8,408.8 164.8,408.8 165.8,408.8 166.8,408.8 167.8,408.8 168.8,408.8 169.8,408.8 170.8,408.8 171.8,408.8 172.8,408.8 173.8,408.8 174.8,408.8 175.8,408.8 176.8,408.8 177.8,408.8 178.8,408.8 179.8,408.8 180.8,408.8 181.8,408.8 182.8,408.8 183.8,408.8 184.8,408.8 185.8,408.8 186.8,408.8 187.8,408.8 188.8,408.8 189.8,408.8 190.8,408.8 191.8,408.8 192.8,408.8 193.8,408.8 194.8,408.8 195.8,408.8 196.8,408.8 197.8,408.8 198.8,408.8 199.8,408.8 200.8,408.8 201.8,408.8 202.8,408.8 203.8,408.8 204.8,408.8 205.8,408.8 206.8,408.8 207.8,408.8 208.8,408.8 209.8,408.8 210.8,408.8 211.8,408.8 212.8,408.8 213.8,408.8 214.8,408.8 215.8,408.8 216.8,408.8 217.8,408.8 218.8,408.8 219.8,408.8 220.8,408.8 221.8,408.8 222.8,408.8 223.8,408.8 224.8,408.8 225.8,408.8 226.8,408.8 227.8,408.8 228.8,408.8 229.8,408.8 230.8,408.8 231.8,408.8 232.8,408.8 233.8,408.8 234.8,408.8 235.8,408.8 236.8,408.8 237.8,408.8 238.8,408.8 239.8,408.8 240.8,408.8 241.8,408.8 242.8,408.7 243.8,408.7 244.8,408.7 245.8,408.7 246.8,408.7 247.8,408.7 248.8,408.7 249.8,408.7 250.8,408.7 251.8,408.7 252.8,408.7 253.8,408.7 254.8,408.7 255.8,408.7 256.8,408.7 257.8,408.7 258.8,408.7 259.8,408.7 260.8,408.7 261.8,408.7 262.8,408.7 263.8,408.7 264.8,408.7 265.8,408.7 266.8,408.6 267.8,408.6 268.8,408.6 269.8,408.6 270.8,408.6 271.8,408.6 272.8,408.6 273.8,408.6 274.8,408.6 275.8,408.5 276.8,408.3 277.8,408.0 278.8,407.8 279.8,407.4 280.8,407.1 281.8,406.7 282.8,406.3 283.8,405.9 284.8,405.4 285.8,405.0 286.8,404.6 287.8,404.2 288.8,403.8 289.8,403.4 290.8,402.9 291.8,402.5 292.8,401.9 293.8,401.4 294.8,400.8 295.8,400.2 296.8,399.5 297.8,398.7 298.8,397.9 299.8,397.0 300.8,396.0 301.8,394.9 302.8,393.8 303.8,392.7 304.8,391.5 305.8,390.2 306.8,389.0 307.8,387.6 308.8,386.2 309.8,384.6 310.8,383.0 311.8,381.3 312.8,379.6 313.8,377.8 314.8,376.0 315.8,374.1 316.8,372.1 317.8,370.1 318.8,368.0 319.8,365.7 320.8,363.4 321.8,361.0 322.8,358.6 323.8,356.1 324.8,353.4 325.8,350.7 326.8,347.8 327.8,344.8 328.8,341.7 329.8,338.6 330.8,335.3 331.8,332.0 332.8,328.7 333.8,325.3 334.8,321.9 335.8,318.4 336.8,314.8 337.8,311.2 338.8,307.5 339.8,303.8 340.8,300.0 341.8,296.1 342.8,292.2 343.8,288.3 344.8,284.3 345.8,280.2 346.8,276.0 347.8,271.7 348.8,267.2 349.8,262.5 350.8,257.8 351.8,252.9 352.8,248.0 353.8,243.1 354.8,238.3 355.8,233.4 356.8,228.8 357.8,224.0 358.8,219.4 359.8,215.2 360.8,210.9 361.8,206.7 362.8,202.6 363.8,198.1 364.8,193.3 365.8,189.5 366.8,186.3 367.8,181.5 368.8,176.5 369.8,173.6 370.8,170.8 371.8,166.7 372.8,162.2 373.8,158.3 374.8,154.7 375.8,150.5 376.8,146.8 377.8,144.0 378.8,139.7 379.8,135.9 380.8,130.9 381.8,127.2 382.8,124.0 383.8,121.4 384.8,117.6 385.8,114.0 386.8,110.9 387.8,108.9 388.8,106.7 389.8,103.0 390.8,100.8 391.8,97.9 392.8,95.2 393.8,94.1 394.8,92.1 395.8,87.6 396.8,88.1 397.8,87.7 398.8,84.7 399.8,83.3 400.8,82.0 401.8,79.9 402.8,78.3 403.8,77.6 404.8,76.0 405.8,73.8 406.8,72.1 407.8,69.6 408.8,68.7 409.8,68.0 410.8,66.6 411.8,65.6 412.8,66.0 413.8,64.9 414.8,63.4 415.8,61.0 416.8,60.2 417.8,59.7 418.8,60.1 419.8,61.8 420.8,61.9 421.8,59.4 422.8,58.2 423.8,57.2 424.8,56.7 425.8,57.2 426.8,55.9 427.8,55.0 428.8,55.9 429.8,55.6 430.8,55.5 431.8,55.5 432.8,55.8 433.8,55.5 434.8,55.1 435.8,54.0 436.8,53.7 437.8,54.0 438.8,54.0 439.8,54.1 440.8,54.7 441.8,55.9 442.8,54.6 443.8,54.8 444.8,55.4 445.8,56.2 446.8,54.9 447.8,55.1 448.8,57.8 449.8,58.6 450.8,58.3 451.8,58.6 452.8,60.8 453.8,61.2 454.8,60.8 455.8,61.4 456.8,62.8 457.8,65.1 458.8,64.8 459.8,64.4 460.8,65.9 461.8,68.4 462.8,68.8 463.8,68.1 464.8,68.3 465.8,69.9 466.8,71.6 467.8,72.2 468.8,73.0 469.8,74.3 470.8,74.7 471.8,74.9 472.8,75.6 473.8,77.1 474.8,78.7 475.8,80.7 476.8,81.5 477.8,82.3 478.8,84.2 479.8,84.5 480.8,86.5 481.8,86.8 482.8,88.9 483.8,92.0 484.8,93.6 485.8,93.9 486.8,95.6 487.8,96.7 488.8,99.1 489.8,101.3 490.8,102.9 491.8,106.0 492.8,107.4 493.8,108.5 494.8,109.2 495.8,111.0 496.8,113.4 497.8,115.6 498.8,116.9 499.8,117.2 500.8,118.0 501.8,120.3 502.8,124.9 503.8,127.0 504.8,128.4 505.8,129.6 506.8,132.8 507.8,134.0 508.8,135.0 509.8,135.9 510.8,137.4 511.8,140.9 512.8,142.9 513.8,144.1 514.8,144.4 515.8,145.4 516.8,148.5 517.8,152.9 518.8,155.4 519.8,155.0 520.8,155.7 521.8,156.4 522.8,158.7 523.8,161.5 524.8,162.9 525.8,165.5 526.8,168.3 527.8,168.9 528.8,170.3 529.8,174.5 530.8,176.3 531.8,177.6 532.8,179.5 533.8,181.4 534.8,183.5 535.8,184.2 536.8,186.5 537.8,188.2 538.8,191.2 539.8,194.1 540.8,196.2 541.8,199.3 542.8,199.9 543.8,201.0 544.8,203.8 545.8,206.0 546.8,207.9 547.8,209.5 548.8,211.4 549.8,213.4 550.8,213.8 551.8,216.7 552.8,218.1 553.8,219.6 554.8,221.4 555.8,223.8 556.8,223.2 557.8,224.8 558.8,227.9 559.8,230.1 560.8,230.7 561.8,233.5 562.8,235.5 563.8,234.7 564.8,234.9 565.8,238.8 566.8,240.5 567.8,242.1 568.8,244.6 569.8,245.7 570.8,246.0 571.8,247.4 572.8,248.5 573.8,250.8 574.8,252.3 575.8,253.8 576.8,254.6 577.8,256.5 578.8,258.4 579.8,259.9 580.8,260.9"/>
</g>
<g font-family="Liberation Sans, Arial, Helvetica, sans-serif" font-weight="700" fill="#000" font-size="20.7">
<text x="95.7" y="438.7" text-anchor="middle">400</text>
<text x="156.4" y="438.7" text-anchor="middle">450</text>
<text x="217.1" y="438.7" text-anchor="middle">500</text>
<text x="277.8" y="438.7" text-anchor="middle">550</text>
<text x="338.5" y="438.7" text-anchor="middle">600</text>
<text x="399.1" y="438.7" text-anchor="middle">650</text>
<text x="459.8" y="438.7" text-anchor="middle">700</text>
<text x="520.5" y="438.7" text-anchor="middle">750</text>
<text x="581.2" y="438.7" text-anchor="middle">800</text>
<text x="82.7" y="415.7" text-anchor="end">0.0</text>
<text x="82.7" y="344.4" text-anchor="end">0.2</text>
<text x="82.7" y="273.2" text-anchor="end">0.4</text>
<text x="82.7" y="201.9" text-anchor="end">0.6</text>
<text x="82.7" y="130.7" text-anchor="end">0.8</text>
<text x="82.7" y="59.4" text-anchor="end">1.0</text>
</g>
<text font-family="Liberation Sans, Arial, Helvetica, sans-serif" font-weight="700" fill="#000" font-size="33.7" x="339" y="478.8" text-anchor="middle">Wavelength (nm)</text>
<text font-family="Liberation Sans, Arial, Helvetica, sans-serif" font-weight="700" fill="#000" font-size="33.4" transform="translate(30.1,197.5) rotate(-90)" text-anchor="middle">Normalized Intensity</text>
<g stroke-width="2.3" fill="none">
<path stroke="#000" d="M500 29.8H547.4"/>
<path stroke="#ff0000" d="M500 55.6H547.4"/>
<path stroke="#0000ff" d="M500 81.3H547.4"/>
<path stroke="#ff00ff" d="M500 107.0H547.4"/>
</g>
<g font-family="Liberation Sans, Arial, Helvetica, sans-serif" font-weight="700" fill="#000" font-size="19.5">
<text x="552.2" y="36.6">2</text>
<text x="552.2" y="62.0">3</text>
<text x="552.2" y="87.8">2S</text>
<text x="552.2" y="113.3">3S</text>
</g>
<g font-family="Liberation Sans, Arial, Helvetica, sans-serif" font-weight="700" fill="#000" text-anchor="middle">
<text font-size="21.4" x="226.4" y="207.8">2</text><text font-size="21.4" x="301" y="207.8">3</text>
<text font-size="21.5" x="395.2" y="309.5">2S</text><text font-size="21.5" x="477.8" y="309.5">3S</text>
</g>
</svg>
</body></html>
